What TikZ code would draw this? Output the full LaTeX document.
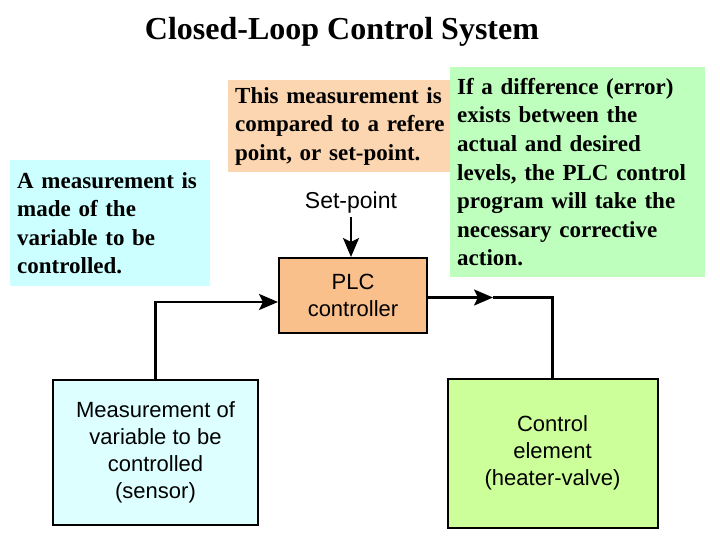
\documentclass[tikz,border=0pt]{standalone}
\usepackage{fontspec}
\setmainfont{Liberation Serif}
\setsansfont{Liberation Sans}
\usetikzlibrary{arrows.meta}

\definecolor{notecyan}{RGB}{204,255,255}
\definecolor{notepeach}{RGB}{252,214,176}
\definecolor{notegreen}{RGB}{190,255,190}
\definecolor{plcfill}{RGB}{249,192,140}
\definecolor{sensorfill}{RGB}{221,255,255}
\definecolor{elemfill}{RGB}{204,255,153}

\tikzset{
  note/.style={rectangle,anchor=north west,inner xsep=7pt,inner ysep=0pt,
    align=left,font=\bfseries\fontsize{23}{28.6}\selectfont},
  block/.style={rectangle,draw,line width=2pt,inner sep=0pt,align=center,
    font=\sffamily\fontsize{22}{26.8}\selectfont},
  wire/.style={line width=2.5pt},
  flowarrow/.style={wire,-{Stealth[length=19pt,width=16pt,inset=4pt]}}
}

\begin{document}
\begin{tikzpicture}[x=1pt,y=-1pt]
    \useasboundingbox (0,0) rectangle (720,540);
    \node[font=\bfseries\fontsize{32}{38}\selectfont] (title) at (342,32)
      {Closed-Loop Control System};
    % text notes
    \node[note,fill=notecyan,text width=186pt,minimum height=126pt] (measnote)
      at (10,160) {A measurement is\\made of the\\variable to be\\controlled.};
    \node[note,fill=notepeach,text width=218pt,minimum height=92pt] (compnote)
      at (228,80) {This measurement is\\compared to a refere\\point, or set-point.};
    \node[note,fill=notegreen,text width=241pt,minimum height=210pt] (errnote)
      at (450,67) {If a difference (error)\\exists between the\\actual and desired\\%
      levels, the PLC control\\program will take the\\necessary corrective\\action.};
    % loop
    \node[font=\sffamily\fontsize{23}{27}\selectfont] (setpoint) at (351,203)
      {Set-point};
    \node[block,fill=plcfill,minimum width=148pt,minimum height=75pt] (plc)
      at (353,295.5) {PLC\\controller};
    \node[block,fill=sensorfill,minimum width=205pt,minimum height=145pt] (sensor)
      at (155.5,452.5) {Measurement of\\variable to be\\controlled\\(sensor)};
    \node[block,fill=elemfill,minimum width=210pt,minimum height=149pt] (element)
      at (552.5,453) {Control\\element\\(heater-valve)};
    \coordinate (out) at (493,297.5);
    \draw[flowarrow] (setpoint.south) -- (setpoint.south |- plc.north);
    \draw[flowarrow] (sensor.north) |- ([yshift=-6.5pt]plc.west);
    \draw[flowarrow] ([yshift=-2pt]plc.east) -- (out);
    \draw[wire] (out) -| (element.north);
\end{tikzpicture}
\end{document}
